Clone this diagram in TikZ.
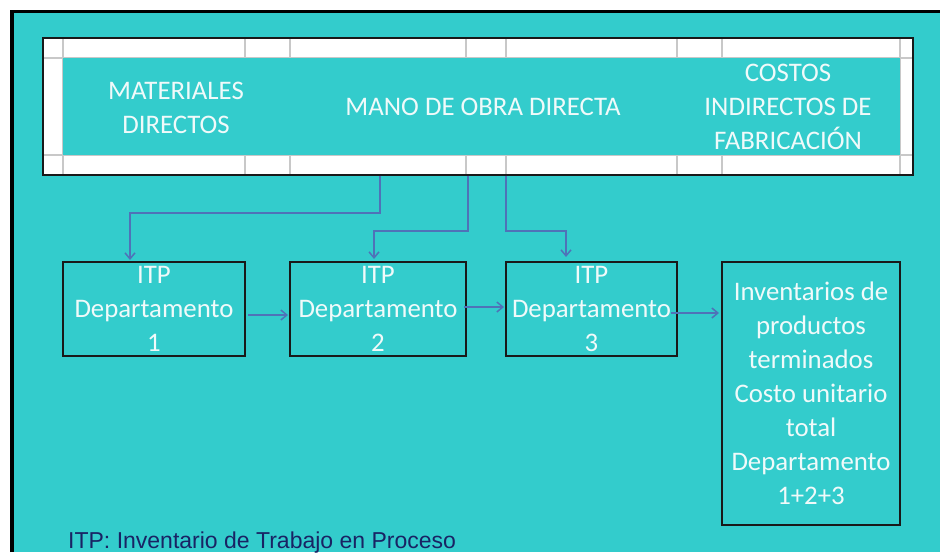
\documentclass[tikz,border=0pt]{standalone}
\usepackage{fontspec}
\setmainfont{Carlito}
\newfontfamily\arialfont{Liberation Sans}
\usetikzlibrary{arrows.meta}
\definecolor{tealbg}{RGB}{51,204,204}
\definecolor{arrowc}{RGB}{79,114,184}
\definecolor{gridc}{RGB}{200,200,200}
\definecolor{txtc}{RGB}{240,250,250}
\definecolor{navyc}{RGB}{25,35,100}
\begin{document}
\begin{tikzpicture}[x=1pt,y=-1pt,
  hdr/.style={inner sep=0pt, align=center, text=txtc, font=\fontsize{26.8}{34}\selectfont},
  deptbox/.style={draw=black!90, line width=2pt, inner sep=0pt, align=center,
    text=txtc, font=\fontsize{26.8}{34}\selectfont},
  flow/.style={draw=arrowc, line width=1.5pt, -{Straight Barb[length=6pt,width=10pt]}},
  gridline/.style={draw=gridc, line width=1.5pt},
]
\useasboundingbox (0,0) rectangle (940,552);
\fill[white] (0,0) rectangle (940,552);
\fill[tealbg] (12,11.5) rectangle (940,552);
\draw[black, line width=4pt] (12,552) -- (12,10);
\draw[black, line width=3pt] (10,11.5) -- (940,11.5);

% table
\fill[white] (43,38) rectangle (913,175);
\foreach \gx in {63,245,290,466,506,677,722,900}
  \draw[gridline] (\gx,38) -- (\gx,175);
\foreach \gy in {58,155}
  \draw[gridline] (43,\gy) -- (913,\gy);
\fill[tealbg] (63,58) rectangle (900,155);
\node[draw=black!90, line width=1.5pt, minimum width=870pt, minimum height=137pt, inner sep=0pt] (tbl) at (478,106.5) {};

\node[hdr] (md) at (176,107.5) {MATERIALES\\DIRECTOS};
\node[hdr] (mo) at (483,107) {MANO DE OBRA DIRECTA};
\node[hdr] (cif) at (788,107) {COSTOS\\INDIRECTOS DE\\FABRICACIÓN};

% departments
\node[deptbox, minimum width=182pt, minimum height=94pt] (d1) at (154,309) {ITP\\Departamento\\1};
\node[deptbox, minimum width=176pt, minimum height=94pt] (d2) at (378,309) {ITP\\Departamento\\2};
\node[deptbox, minimum width=171pt, minimum height=94pt] (d3) at (591.5,309) {ITP\\Departamento\\3};
\node[deptbox, minimum width=178pt, minimum height=263pt] (d4) at (811,393.5) {Inventarios de\\productos\\terminados\\Costo unitario\\total\\Departamento\\1+2+3};

% connectors from the table
\coordinate (s1) at (380,175.5);
\coordinate (k1) at (130,213);
\coordinate (s2) at (468,175.5);
\coordinate (k2) at (374,231);
\coordinate (s3) at (506,175.5);
\coordinate (k3) at (566,231);
\draw[flow] (s1) |- (k1) -- ([yshift=1pt]k1 |- d1.north);
\draw[flow] (s2) |- (k2) -- ([yshift=2pt]k2 |- d2.north);
\draw[flow] (s3) |- (k3) -- ([yshift=4pt]k3 |- d3.north);

% horizontal connectors
\coordinate (h1) at ([xshift=2pt,yshift=-6pt]d1.east);
\coordinate (h2) at ([xshift=-3pt,yshift=2pt]d2.east);
\coordinate (h3) at ([xshift=-7pt,yshift=-4pt]d3.east);
\draw[flow] (h1) -- ([xshift=-1pt]h1 -| d2.west);
\draw[flow] (h2) -- ([xshift=-1pt]h2 -| d3.west);
\draw[flow] (h3) -- ([xshift=-2pt]h3 -| d4.west);

\node[anchor=base west, inner sep=0pt, text=navyc, font=\arialfont\fontsize{23}{27}\selectfont] (note) at (68,548) {ITP: Inventario de Trabajo en Proceso};
\end{tikzpicture}
\end{document}
